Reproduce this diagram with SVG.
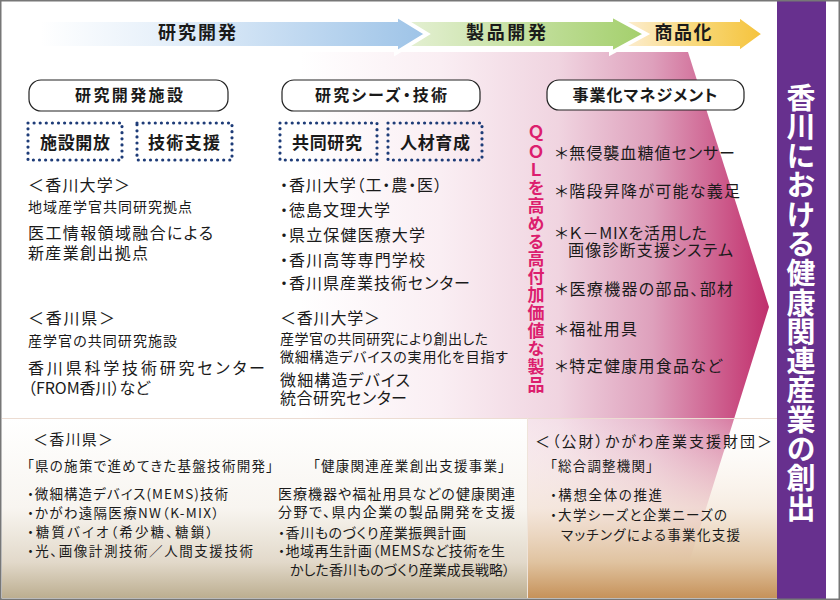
<svg xmlns="http://www.w3.org/2000/svg" width="840" height="600" viewBox="0 0 840 600">
<defs>
<style>
.t{font-family:"Noto Sans CJK JP","Noto Sans",sans-serif;fill:#1a1a1a;font-feature-settings:"palt";}
.b{font-weight:bold;}
.s16{font-size:16px;}
.s14{font-size:14px;}
.s135{font-size:13.5px;}
.hdr{fill:#ffffff;stroke:#222;stroke-width:1.2;}
.dot{fill:none;stroke:#1e3c78;stroke-width:3.2;stroke-dasharray:0 6.1;stroke-linecap:round;}
.ph{stroke:#ffffff;stroke-width:4;stroke-linejoin:miter;}
.vert{writing-mode:vertical-rl;text-orientation:upright;}
.red{font-family:"Noto Sans CJK JP","Noto Sans",sans-serif;font-weight:bold;font-size:17px;fill:#dc1e6e;}
.pur{font-family:"Noto Sans CJK JP","Noto Sans",sans-serif;font-weight:bold;font-size:29px;fill:#ffffff;}
</style>
<linearGradient id="gPink" gradientUnits="userSpaceOnUse" x1="300" y1="0" x2="770" y2="0">
<stop offset="0" stop-color="#ffffff"/>
<stop offset="0.3" stop-color="#faeef3"/>
<stop offset="0.55" stop-color="#f0d4e0"/>
<stop offset="0.75" stop-color="#dea0bc"/>
<stop offset="0.94" stop-color="#c8487e"/>
<stop offset="1" stop-color="#bf2e6c"/>
</linearGradient>
<linearGradient id="gBlue" gradientUnits="userSpaceOnUse" x1="40" y1="0" x2="427" y2="0">
<stop offset="0" stop-color="#ffffff"/>
<stop offset="0.3" stop-color="#e8f1fa"/>
<stop offset="0.73" stop-color="#bad5ef"/>
<stop offset="1" stop-color="#9dc3e7"/>
</linearGradient>
<linearGradient id="gGreen" gradientUnits="userSpaceOnUse" x1="400" y1="0" x2="646" y2="0">
<stop offset="0" stop-color="#e6f1d6"/>
<stop offset="1" stop-color="#a3cf6b"/>
</linearGradient>
<linearGradient id="gOrange" gradientUnits="userSpaceOnUse" x1="615" y1="0" x2="764" y2="0">
<stop offset="0" stop-color="#fdf0de"/>
<stop offset="0.55" stop-color="#f8d878"/>
<stop offset="1" stop-color="#f5c23a"/>
</linearGradient>
<linearGradient id="gLeft" x1="0" y1="0" x2="0" y2="1">
<stop offset="0" stop-color="#ffffff"/>
<stop offset="0.5" stop-color="#f8f5f0"/>
<stop offset="0.8" stop-color="#e2d9ca"/>
<stop offset="1" stop-color="#bcae90"/>
</linearGradient>
<linearGradient id="gRight" x1="0" y1="0" x2="0" y2="1">
<stop offset="0" stop-color="#ffffff" stop-opacity="0.25"/>
<stop offset="0.5" stop-color="#f5e9dc" stop-opacity="0.85"/>
<stop offset="0.8" stop-color="#e0c3a0" stop-opacity="1"/>
<stop offset="1" stop-color="#c6925a" stop-opacity="1"/>
</linearGradient>
</defs>

<rect x="0" y="0" width="840" height="600" fill="#ffffff"/>

<g id="qol-arrow">
<polygon points="300,52 688,52 769,307 678,598 300,598" fill="url(#gPink)"/>
</g>

<g id="bottom-left-panel">
<rect x="2" y="418" width="525" height="180" fill="url(#gLeft)"/>
</g>
<g id="bottom-right-panel">
<rect x="527" y="418" width="250" height="180" fill="url(#gRight)"/>
</g>
<line x1="2" y1="418.5" x2="777" y2="418.5" stroke="#ecdcd2" stroke-width="1"/>
<line x1="527.5" y1="418" x2="527.5" y2="598" stroke="#efe4da" stroke-width="1"/>

<g id="phase-arrows">
<g id="phase-shohinka">
<polygon class="ph" points="615,20 738,20 738,15 764,34 738,53 738,48 615,48" fill="url(#gOrange)"/>
<text class="t b" x="683" y="39" font-size="18" text-anchor="middle" textLength="57">商品化</text>
</g>
<g id="phase-seihin">
<polygon class="ph" points="400,20 611,20 611,15 646,34 611,53 611,48 400,48" fill="url(#gGreen)"/>
<text class="t b" x="506" y="39" font-size="18" text-anchor="middle" textLength="80">製品開発</text>
</g>
<g id="phase-kenkyu">
<polygon class="ph" points="40,20 396,20 396,15 427,34 396,53 396,48 40,48" fill="url(#gBlue)"/>
<text class="t b" x="197" y="39" font-size="18" text-anchor="middle" textLength="78">研究開発</text>
</g>
</g>

<g id="header-shisetsu">
<rect class="hdr" x="29" y="80" width="199" height="31" rx="12"/>
<text class="t b s16" x="129" y="101" text-anchor="middle" textLength="108">研究開発施設</text>
</g>
<g id="header-seeds">
<rect class="hdr" x="282" y="80" width="198" height="31" rx="12"/>
<text class="t b s16" x="381" y="101" text-anchor="middle" textLength="132">研究シーズ・技術</text>
</g>
<g id="header-management">
<rect class="hdr" x="547" y="80" width="197" height="30" rx="12"/>
<text class="t b s16" x="645" y="101" text-anchor="middle" textLength="145">事業化マネジメント</text>
</g>

<g id="box-shisetsu-kaiho">
<rect class="dot" x="28" y="123" width="94" height="37"/>
<text class="t b" font-size="17" x="75" y="149" text-anchor="middle" textLength="70">施設開放</text>
</g>
<g id="box-gijutsu-shien">
<rect class="dot" x="137" y="123" width="95" height="37"/>
<text class="t b" font-size="17" x="184" y="149" text-anchor="middle" textLength="72">技術支援</text>
</g>
<g id="box-kyodo-kenkyu">
<rect class="dot" x="280" y="123" width="97" height="37"/>
<text class="t b" font-size="17" x="327" y="149" text-anchor="middle" textLength="70">共同研究</text>
</g>
<g id="box-jinzai">
<rect class="dot" x="388" y="123" width="94" height="37"/>
<text class="t b" font-size="17" x="435" y="149" text-anchor="middle" textLength="70">人材育成</text>
</g>

<g id="left-column">
<text class="t s16" x="28" y="191" textLength="102">＜香川大学＞</text>
<text class="t s14" x="28" y="212" textLength="164">地域産学官共同研究拠点</text>
<text class="t s16" x="28" y="239" textLength="185">医工情報領域融合による</text>
<text class="t s16" x="28" y="259" textLength="120">新産業創出拠点</text>
<text class="t s16" x="28" y="324" textLength="87">＜香川県＞</text>
<text class="t s14" x="28" y="346" textLength="149">産学官の共同研究施設</text>
<text class="t s16" x="28" y="374" textLength="237">香川県科学技術研究センター</text>
<text class="t s16" x="28" y="394" textLength="122">（FROM香川）など</text>
</g>

<g id="middle-column">
<text class="t s16" x="280" y="191" textLength="162">・香川大学（工・農・医）</text>
<text class="t s16" x="280" y="216" textLength="110">・徳島文理大学</text>
<text class="t s16" x="280" y="241" textLength="145">・県立保健医療大学</text>
<text class="t s16" x="280" y="266" textLength="145">・香川高等専門学校</text>
<text class="t s16" x="280" y="289" textLength="190">・香川県産業技術センター</text>
<text class="t s16" x="280" y="324" textLength="100">＜香川大学＞</text>
<text class="t s14" x="280" y="344" textLength="208">産学官の共同研究により創出した</text>
<text class="t s14" x="280" y="362" textLength="228">微細構造デバイスの実用化を目指す</text>
<text class="t s16" x="280" y="386" textLength="130">微細構造デバイス</text>
<text class="t s16" x="280" y="404" textLength="127">統合研究センター</text>
</g>

<g id="qol-label">
<text class="red vert" x="536" y="125" textLength="268">ＱＯＬを高める高付加価値な製品</text>
</g>

<g id="right-column">
<text class="t s16" x="555" y="159" textLength="180">＊無侵襲血糖値センサー</text>
<text class="t s16" x="555" y="197" textLength="185">＊階段昇降が可能な義足</text>
<text class="t s16" x="555" y="239" textLength="152">＊Ｋ－MIXを活用した</text>
<text class="t s16" x="568" y="256" textLength="165">画像診断支援システム</text>
<text class="t s16" x="555" y="295" textLength="178">＊医療機器の部品、部材</text>
<text class="t s16" x="555" y="335" textLength="82">＊福祉用具</text>
<text class="t s16" x="555" y="372" textLength="167">＊特定健康用食品など</text>
</g>

<g id="goal-band">
<rect x="777" y="0" width="49" height="600" fill="#67308e"/>
<text class="pur vert" x="801" y="83" textLength="439">香川における健康関連産業の創出</text>
</g>

<g id="kagawa-ken-policy">
<text class="t" font-size="15" x="33" y="445" textLength="80">＜香川県＞</text>
<text class="t s135" x="27" y="471" textLength="246">「県の施策で進めてきた基盤技術開発」</text>
<text class="t s135" x="27" y="499" textLength="201">・微細構造デバイス(MEMS)技術</text>
<text class="t s135" x="27" y="518" textLength="192">・かがわ遠隔医療NW（K-MIX）</text>
<text class="t s135" x="27" y="537" textLength="186">・糖質バイオ（希少糖、糖鎖）</text>
<text class="t s135" x="27" y="556" textLength="226">・光、画像計測技術／人間支援技術</text>
</g>

<g id="kenko-shien-jigyo">
<text class="t s135" x="313" y="471" textLength="192">「健康関連産業創出支援事業」</text>
<text class="t s14" x="278" y="499" textLength="237">医療機器や福祉用具などの健康関連</text>
<text class="t s14" x="278" y="517" textLength="237">分野で、県内企業の製品開発を支援</text>
<text class="t s14" x="278" y="538" textLength="188">・香川ものづくり産業振興計画</text>
<text class="t s14" x="278" y="556" textLength="227">・地域再生計画（MEMSなど技術を生</text>
<text class="t s14" x="290" y="575" textLength="220">かした香川ものづくり産業成長戦略）</text>
</g>

<g id="kagawa-zaidan">
<text class="t" font-size="15" x="535" y="447" textLength="237">＜（公財）かがわ産業支援財団＞</text>
<text class="t s135" x="550" y="471" textLength="103">「総合調整機関」</text>
<text class="t s135" x="550" y="500" textLength="112">・構想全体の推進</text>
<text class="t s135" x="550" y="520" textLength="177">・大学シーズと企業ニーズの</text>
<text class="t s135" x="561" y="540" textLength="179">マッチングによる事業化支援</text>
</g>

<rect x="0.75" y="0.75" width="838.5" height="598.5" fill="none" stroke="#777" stroke-width="1.5"/>
</svg>
